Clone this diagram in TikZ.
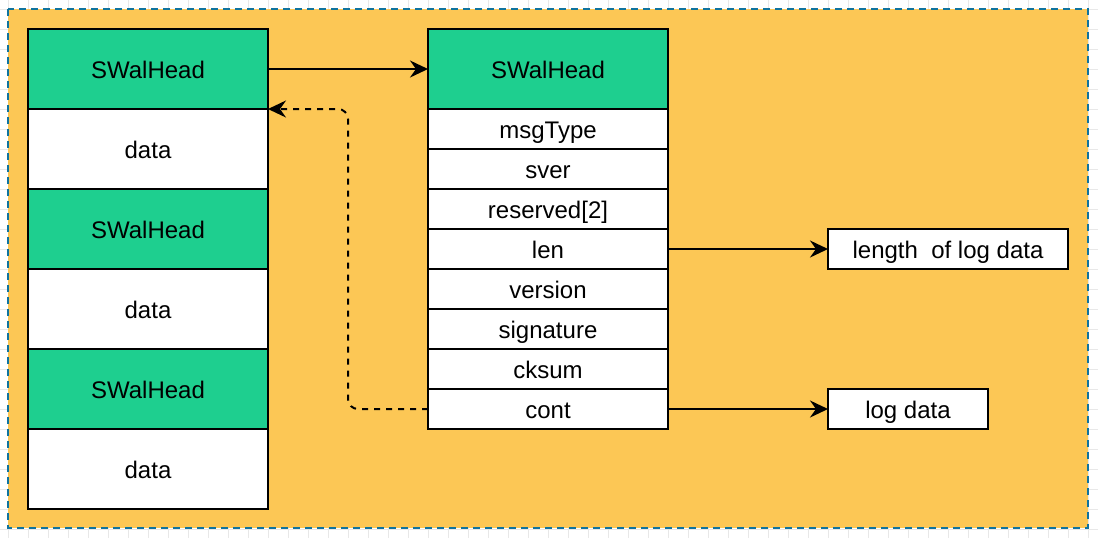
\documentclass[tikz,border=0pt]{standalone}
\usepackage{fontspec}
\setmainfont{Liberation Sans}
\usetikzlibrary{positioning,arrows.meta}
\definecolor{headgreen}{HTML}{1ECF8F}
\definecolor{bgorange}{HTML}{FCC755}
\definecolor{frameblue}{HTML}{10739E}
\begin{document}
\begin{tikzpicture}[
    x=0.5pt, y=-0.5pt,
    every node/.style={draw, line width=1pt, inner sep=0pt, outer sep=0pt,
        text height=10.6pt, text depth=1pt, font=\fontsize{12}{14}\selectfont},
    head/.style={fill=headgreen, minimum width=120pt, minimum height=40pt},
    cell/.style={fill=white, minimum width=120pt, minimum height=40pt},
    field/.style={fill=white, minimum width=120pt, minimum height=20pt},
    note/.style={fill=white, minimum height=20pt},
    link/.style={line width=1pt, -{Stealth[length=9pt, width=8.5pt, inset=3pt]}},
    gridline/.style={line width=0.4pt, gray!18}
]
\useasboundingbox (0,0) rectangle (1098,538);
% grid and background
\foreach \gx in {8,28,...,1088} \draw[gridline] (\gx,0) -- (\gx,538);
\foreach \gy in {9,29,...,529} \draw[gridline] (0,\gy) -- (1098,\gy);
\draw[fill=bgorange, draw=frameblue, line width=1pt, dash pattern=on 3.5pt off 2.5pt] (8,9) rectangle (1088,528);
% wal file
\node[head] (lhead1) at (148,69) {SWalHead};
\node[cell, below=0pt of lhead1] (ldata1) {data};
\node[head, below=0pt of ldata1] (lhead2) {SWalHead};
\node[cell, below=0pt of lhead2] (ldata2) {data};
\node[head, below=0pt of ldata2] (lhead3) {SWalHead};
\node[cell, below=0pt of lhead3] (ldata3) {data};
% head fields
\node[head] (rhead) at (548,69) {SWalHead};
\node[field, below=0pt of rhead] (msgtype) {msgType};
\node[field, below=0pt of msgtype] (sver) {sver};
\node[field, below=0pt of sver] (reserved) {reserved[2]};
\node[field, below=0pt of reserved] (len) {len};
\node[field, below=0pt of len] (version) {version};
\node[field, below=0pt of version] (signature) {signature};
\node[field, below=0pt of signature] (cksum) {cksum};
\node[field, below=0pt of cksum] (cont) {cont};
\node[note, minimum width=120pt, right=80pt of len] (lenbox) {length~ of log data};
\node[note, minimum width=80pt, right=80pt of cont] (logbox) {log data};
% links
\draw[link] (lhead1.east) -- (rhead.west);
\draw[link] (len.east) -- (lenbox.west);
\draw[link] (cont.east) -- (logbox.west);
\draw[link, dash pattern=on 3pt off 3pt, rounded corners=5pt] (cont.west) -- ++(-80,0) |- (lhead1.south east);
\end{tikzpicture}
\end{document}
